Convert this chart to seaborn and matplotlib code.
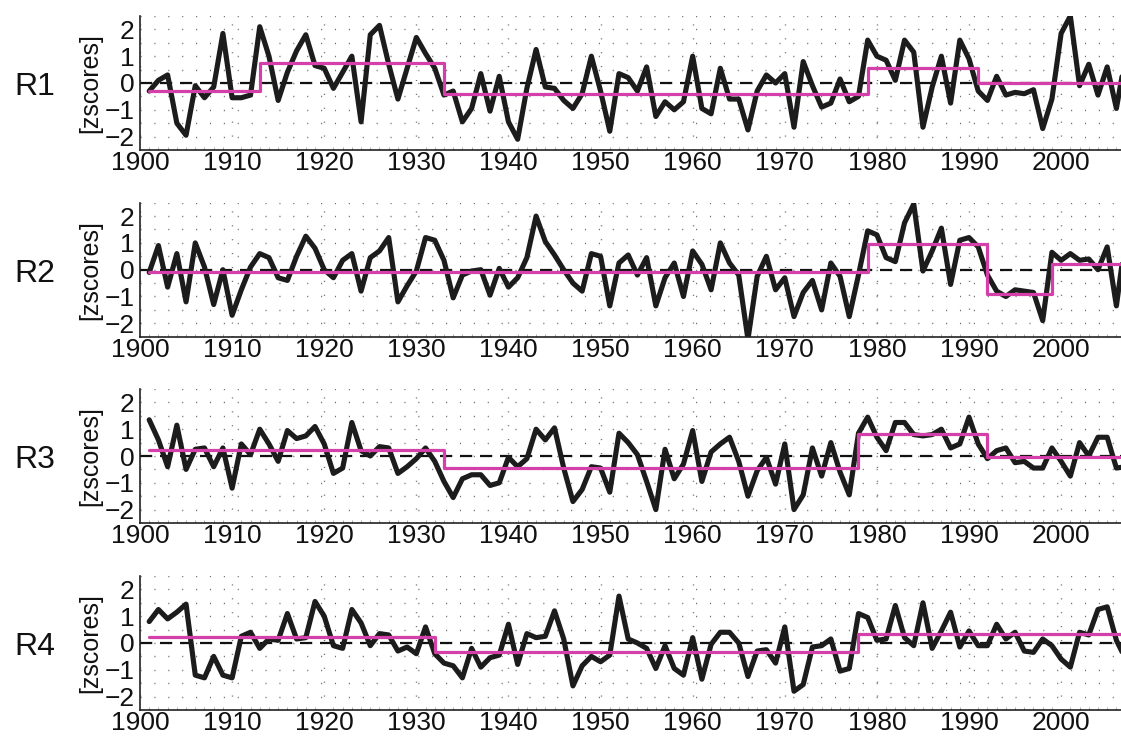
import numpy as np
import pandas as pd
import matplotlib
matplotlib.use("Agg")
import matplotlib.pyplot as plt
from matplotlib.ticker import MultipleLocator
import seaborn as sns

# ---- data -------------------------------------------------------------
years = list(range(1901, 2008))

r1_z = [-0.3, 0.1, 0.3, -1.5, -1.95, -0.1, -0.55, -0.15, 1.85, -0.55,
        -0.55, -0.45, 2.1, 1.0, -0.65, 0.4, 1.2, 1.8, 0.65, 0.55,
        -0.2, 0.4, 1.0, -1.45, 1.8, 2.15, 0.7, -0.6, 0.55, 1.7,
        1.1, 0.55, -0.45, -0.3, -1.45, -0.95, 0.35, -1.05, 0.25, -1.45,
        -2.1, -0.2, 1.25, -0.15, -0.2, -0.65, -0.95, -0.4, 1.0, -0.3,
        -1.8, 0.35, 0.2, -0.3, 0.6, -1.25, -0.7, -1.0, -0.7, 1.0,
        -0.95, -1.15, 0.55, -0.6, -0.6, -1.75, -0.3, 0.3, 0.0, 0.35,
        -1.65, 0.8, -0.1, -0.9, -0.75, 0.15, -0.7, -0.5, 1.6, 1.0,
        0.85, 0.1, 1.6, 1.15, -1.65, -0.15, 1.0, -0.75, 1.6, 0.9,
        -0.3, -0.65, 0.25, -0.45, -0.35, -0.4, -0.25, -1.7, -0.6, 1.85,
        2.5, -0.1, 0.7, -0.45, 0.6, -0.95, 1.0]

r2_z = [-0.1, 0.9, -0.65, 0.6, -1.2, 1.0, 0.1, -1.3, 0.0, -1.7,
        -0.75, 0.1, 0.6, 0.45, -0.3, -0.4, 0.5, 1.25, 0.8, 0.0,
        -0.3, 0.35, 0.6, -0.8, 0.45, 0.7, 1.2, -1.2, -0.6, -0.05,
        1.2, 1.1, 0.35, -1.05, -0.2, -0.05, 0.0, -0.95, 0.05, -0.65,
        -0.3, 0.45, 2.0, 1.05, 0.55, 0.0, -0.5, -0.8, 0.6, 0.5,
        -1.35, 0.25, 0.55, -0.2, 0.45, -1.35, -0.3, 0.25, -1.0, 0.7,
        0.2, -0.75, 1.0, 0.25, -0.2, -2.6, -0.25, 0.5, -0.75, -0.3,
        -1.75, -0.85, -0.4, -1.5, 0.25, -0.25, -1.75, -0.2, 1.45, 1.3,
        0.45, 0.3, 1.75, 2.45, -0.05, 0.7, 1.55, -0.55, 1.1, 1.2,
        0.85, -0.2, -0.8, -1.0, -0.75, -0.8, -0.85, -1.9, 0.65, 0.35,
        0.6, 0.35, 0.4, 0.0, 0.85, -1.35, 1.2]

r3_z = [1.35, 0.6, -0.4, 1.15, -0.5, 0.25, 0.3, -0.4, 0.3, -1.2,
        0.45, 0.05, 1.0, 0.45, -0.2, 0.95, 0.65, 0.75, 1.1, 0.45,
        -0.65, -0.45, 1.25, 0.2, 0.0, 0.35, 0.3, -0.65, -0.4, -0.1,
        0.3, -0.2, -0.95, -1.55, -0.85, -0.7, -0.7, -1.1, -1.0, -0.05,
        -0.4, -0.1, 1.0, 0.6, 1.05, -0.45, -1.7, -1.25, -0.4, -0.45,
        -1.35, 0.85, 0.5, 0.05, -0.95, -2.0, 0.25, -0.85, -0.3, 0.95,
        -0.95, 0.15, 0.45, 0.7, -0.2, -1.5, -0.55, -0.05, -1.05, 0.45,
        -2.0, -1.45, 0.3, -0.75, 0.5, -0.6, -1.45, 0.85, 1.45, 0.7,
        0.2, 1.25, 1.25, 0.8, 0.75, 0.8, 1.0, 0.3, 0.45, 1.45,
        0.45, -0.1, 0.2, 0.3, -0.25, -0.2, -0.45, -0.45, 0.3, -0.2,
        -0.75, 0.5, 0.0, 0.7, 0.7, -0.45, -0.4]

r4_z = [0.8, 1.25, 0.9, 1.15, 1.45, -1.2, -1.3, -0.5, -1.2, -1.3,
        0.25, 0.4, -0.2, 0.15, 0.1, 1.1, 0.15, 0.2, 1.55, 1.0,
        -0.1, -0.2, 1.25, 0.75, -0.1, 0.35, 0.3, -0.3, -0.15, -0.4,
        0.6, -0.4, -0.75, -0.85, -1.3, -0.2, -0.9, -0.55, -0.45, 0.7,
        -0.8, 0.35, 0.2, 0.25, 1.2, 0.15, -1.6, -0.85, -0.5, -0.7,
        -0.45, 1.75, 0.15, 0.0, -0.2, -0.95, -0.1, -0.95, -1.2, 0.2,
        -1.35, -0.05, 0.4, 0.4, 0.0, -1.25, -0.3, -0.25, -0.75, 0.6,
        -1.8, -1.55, -0.15, -0.1, 0.15, -1.05, -0.95, 1.1, 0.95, 0.1,
        0.15, 1.4, 0.2, -0.1, 1.5, -0.2, 0.45, 1.15, -0.15, 0.45,
        -0.1, -0.1, 0.7, 0.15, 0.4, -0.3, -0.35, 0.15, -0.1, -0.6,
        -0.9, 0.4, 0.3, 1.25, 1.35, 0.1, -0.6]

# regime shifts: start year of each regime and its mean level
r1_breaks = [1901, 1913, 1933, 1979, 1991, 2007]
r1_levels = [-0.3, 0.75, -0.42, 0.57, 0.0]
r2_breaks = [1901, 1979, 1992, 1999, 2007]
r2_levels = [-0.1, 0.96, -0.9, 0.2]
r3_breaks = [1901, 1933, 1978, 1992, 2007]
r3_levels = [0.22, -0.43, 0.83, -0.02]
r4_breaks = [1901, 1932, 1978, 2007]
r4_levels = [0.21, -0.35, 0.34]

region_names = ["R1", "R2", "R3", "R4"]
series = [r1_z, r2_z, r3_z, r4_z]
breaks = [r1_breaks, r2_breaks, r3_breaks, r4_breaks]
levels = [r1_levels, r2_levels, r3_levels, r4_levels]

x_ticks = list(range(1900, 2001, 10))
y_ticks = [-2, -1, 0, 1, 2]

# ---- styling ------------------------------------------------------------
sns.set_style("white")
plt.rcParams["font.family"] = ["Liberation Sans", "DejaVu Sans"]
plt.rcParams["axes.unicode_minus"] = True

line_color = "#1c1c1c"
shift_color = "#d43fa9"
grid_color = "#6e6e6e"

fig = plt.figure(figsize=(11.21, 7.37), dpi=100)

left = 140 / 1121
width = 1 - left
height = 134 / 737
bottoms = [1 - 150 / 737, 1 - 336.7 / 737, 1 - 523 / 737, 1 - 710 / 737]

for name, z, br, lv, bot in zip(region_names, series, breaks, levels, bottoms):
    ax = fig.add_axes([left, bot, width, height])

    df = pd.DataFrame({"year": years, "z": z})
    step_df = pd.DataFrame({"year": br, "level": lv + [lv[-1]]})

    # dotted grid
    for yv in np.arange(-2.0, 2.51, 0.5):
        ax.axhline(yv, color=grid_color, lw=1.0, ls=(0, (0.8, 9.2)), zorder=0)
    for xv in x_ticks:
        ax.axvline(xv, color=grid_color, lw=1.0, ls=(0, (0.8, 9.2)), zorder=0)

    # zero reference
    ax.axhline(0, color="#111111", lw=1.6, ls=(0, (5.5, 3.5)), zorder=1)

    sns.lineplot(data=df, x="year", y="z", ax=ax, color=line_color,
                 lw=3.7, estimator=None, legend=False, zorder=2)
    sns.lineplot(data=step_df, x="year", y="level", ax=ax, color=shift_color,
                 lw=2.3, drawstyle="steps-post", estimator=None,
                 legend=False, zorder=3)

    ax.set_xlim(1900, 2006.5)
    ax.set_ylim(-2.5, 2.5)
    ax.set_xticks(x_ticks)
    ax.set_xticklabels([str(t) for t in x_ticks])
    ax.set_yticks(y_ticks)
    ax.set_yticklabels(["\u22122", "\u22121", "0", "1", "2"])
    ax.xaxis.set_minor_locator(MultipleLocator(1))
    ax.tick_params(axis="x", which="major", direction="in", length=12,
                   width=1.0, labelsize=19, pad=1, color="#222222",
                   labelcolor="#111111")
    ax.tick_params(axis="x", which="minor", direction="in", length=2,
                   width=0.5, color="#888888", bottom=True)
    ax.tick_params(axis="y", which="major", direction="in", length=3,
                   width=1.0, labelsize=19, pad=4, color="#222222",
                   labelcolor="#111111")

    for side in ["top", "right"]:
        ax.spines[side].set_visible(False)
    for side in ["left", "bottom"]:
        ax.spines[side].set_color("#222222")
        ax.spines[side].set_linewidth(1.2)

    ax.set_xlabel("")
    ax.set_ylabel("")
    ax.text(-50 / 981, 0.5, "[zscores]", transform=ax.transAxes,
            rotation=90, ha="center", va="center", fontsize=18,
            color="#111111")
    ax.text(-105 / 981, 0.47, name, transform=ax.transAxes,
            ha="center", va="center", fontsize=23, color="#111111")

fig.savefig("out.png", dpi=100)
